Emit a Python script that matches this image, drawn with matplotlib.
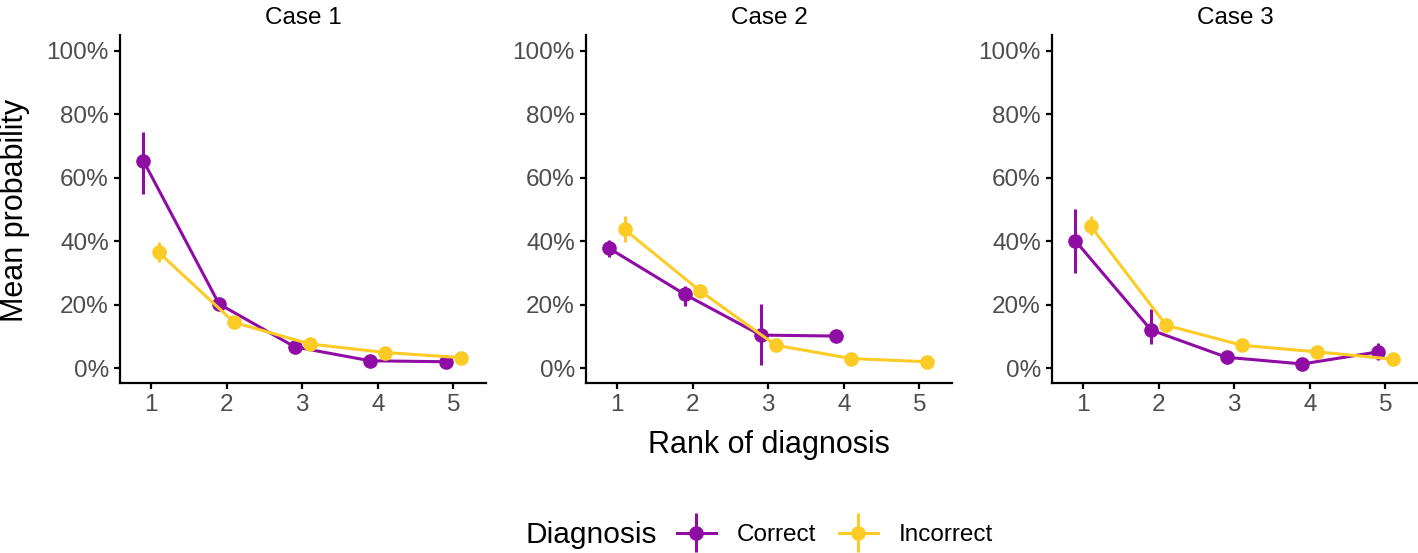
import numpy as np
import matplotlib
matplotlib.use("Agg")
import matplotlib.pyplot as plt
from matplotlib.legend_handler import HandlerErrorbar

plt.rcParams['font.family'] = ['Liberation Sans', 'DejaVu Sans']

cases = ["Case 1", "Case 2", "Case 3"]
ranks = [1, 2, 3, 4, 5]
groups = ["Correct", "Incorrect"]
colors = {"Correct": "#8F0DA4", "Incorrect": "#FCCB26"}

# Mean probability (%) per case and group, by rank
correct_mean = [
    [65.3, 20.2, 6.7, 2.3, 2.0],
    [37.7, 23.2, 10.4, 10.1, np.nan],
    [40.1, 12.0, 3.4, 1.3, 5.1],
]
correct_lo = [
    [54.8, 19.4, 6.0, 1.8, 1.6],
    [35.1, 19.5, 0.9, 10.1, np.nan],
    [30.0, 7.6, 2.8, 0.9, 2.5],
]
correct_hi = [
    [74.5, 21.0, 7.4, 2.8, 2.4],
    [40.3, 25.8, 20.1, 10.1, np.nan],
    [50.0, 18.5, 4.0, 1.7, 7.8],
]
incorrect_mean = [
    [36.5, 14.4, 7.6, 4.9, 3.3],
    [43.7, 24.3, 7.2, 3.0, 2.0],
    [44.8, 13.5, 7.2, 5.1, 2.8],
]
incorrect_lo = [
    [33.3, 12.9, 6.8, 4.3, 2.8],
    [39.6, 22.8, 6.5, 2.5, 1.6],
    [42.1, 11.4, 6.5, 4.5, 2.3],
]
incorrect_hi = [
    [39.8, 15.9, 8.4, 5.5, 3.8],
    [47.9, 25.8, 7.9, 3.5, 2.4],
    [47.9, 15.9, 7.9, 5.7, 3.3],
]

W, H = 1418, 553
fig = plt.figure(figsize=(W / 100, H / 100), dpi=100)

panel_lefts = [120, 586, 1052]
panel_w = 366
ax_top, ax_bot = 35, 383
tick_fs = 17.5
axis_fs = 22

dodge = {"Correct": -0.1, "Incorrect": 0.1}
handles = []
for i, case in enumerate(cases):
    ax = fig.add_axes([panel_lefts[i] / W, 1 - ax_bot / H, panel_w / W, (ax_bot - ax_top) / H])
    data = {
        "Correct": (correct_mean[i], correct_lo[i], correct_hi[i]),
        "Incorrect": (incorrect_mean[i], incorrect_lo[i], incorrect_hi[i]),
    }
    for g in groups:
        m, lo, hi = (np.array(a, dtype=float) for a in data[g])
        x = np.array(ranks, dtype=float) + dodge[g]
        ok = ~np.isnan(m)
        cont = ax.errorbar(x[ok], m[ok], yerr=[m[ok] - lo[ok], hi[ok] - m[ok]], fmt='o-',
                           color=colors[g], lw=2.2, ms=9.5, elinewidth=2.2, capsize=0,
                           zorder=3, label=g)
        if i == 0:
            handles.append(cont)
    ax.set_xlim(0.59, 5.43)
    ax.set_ylim(-4.7, 105)
    ax.set_xticks(ranks)
    ax.set_xticklabels([str(r) for r in ranks])
    ax.set_yticks([0, 20, 40, 60, 80, 100])
    ax.set_yticklabels([f"{v}%" for v in [0, 20, 40, 60, 80, 100]])
    for s in ["top", "right"]:
        ax.spines[s].set_visible(False)
    for s in ["left", "bottom"]:
        ax.spines[s].set_linewidth(1.6)
        ax.spines[s].set_color("black")
    ax.tick_params(axis='both', length=4, width=1.6, color='black', labelsize=tick_fs,
                   labelcolor='#4D4D4D', pad=4)
    ax.set_title(case, fontsize=tick_fs, color='black', pad=8)

fig.text(15 / W, 1 - 210 / H, "Mean probability", rotation=90, fontsize=axis_fs,
         ha='center', va='center')
fig.text(769 / W, 1 - 445 / H, "Rank of diagnosis", fontsize=axis_fs,
         ha='center', va='center')

fig.text(525 / W, 1 - 535 / H, "Diagnosis", fontsize=21.5, ha='left', va='center')
fig.legend(handles=handles, labels=groups, loc='center left',
           bbox_to_anchor=(677 / W, 1 - 535 / H), ncol=2, frameon=False,
           fontsize=tick_fs, handlelength=1.6, handletextpad=0.85, columnspacing=0.95,
           borderpad=0, borderaxespad=0,
           handler_map={type(handles[0]): HandlerErrorbar(yerr_size=0.8)})

fig.savefig("out.png", dpi=100)
